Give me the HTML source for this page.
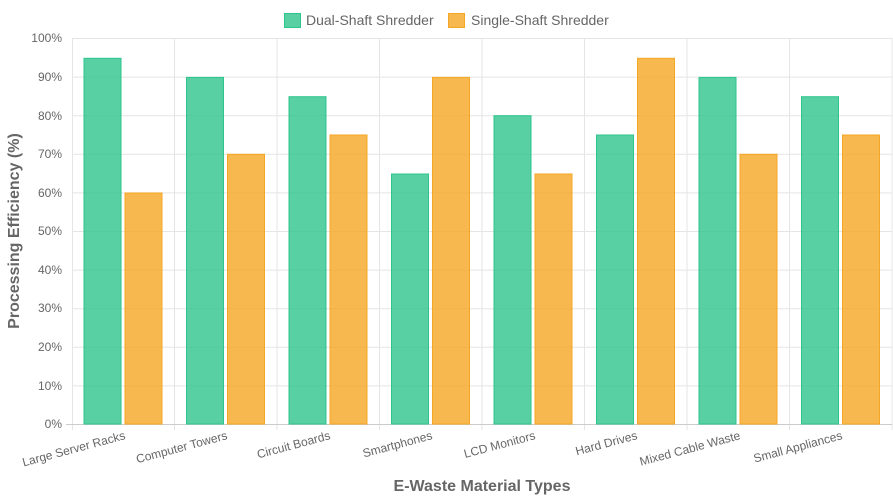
<!DOCTYPE html>
<html><head><meta charset="utf-8"><style>
body{margin:0;background:#fff;}
svg{display:block;font-family:"Liberation Sans",Arial,sans-serif;}
</style></head><body>
<svg width="893" height="500" viewBox="0 0 893 500" xmlns="http://www.w3.org/2000/svg">
<g stroke="#e5e5e5" stroke-width="1">
<line x1="72" y1="38.5" x2="892" y2="38.5"/><line x1="72" y1="77.1" x2="892" y2="77.1"/><line x1="72" y1="115.7" x2="892" y2="115.7"/><line x1="72" y1="154.3" x2="892" y2="154.3"/><line x1="72" y1="192.9" x2="892" y2="192.9"/><line x1="72" y1="231.5" x2="892" y2="231.5"/><line x1="72" y1="270.1" x2="892" y2="270.1"/><line x1="72" y1="308.7" x2="892" y2="308.7"/><line x1="72" y1="347.3" x2="892" y2="347.3"/><line x1="72" y1="385.9" x2="892" y2="385.9"/>
<line x1="72.5" y1="38" x2="72.5" y2="430"/><line x1="174.5" y1="38" x2="174.5" y2="430"/><line x1="277" y1="38" x2="277" y2="430"/><line x1="379.5" y1="38" x2="379.5" y2="430"/><line x1="482" y1="38" x2="482" y2="430"/><line x1="584.5" y1="38" x2="584.5" y2="430"/><line x1="687" y1="38" x2="687" y2="430"/><line x1="789.5" y1="38" x2="789.5" y2="430"/><line x1="892" y1="38" x2="892" y2="430"/>
</g>
<line x1="66" y1="424.5" x2="892" y2="424.5" stroke="#ccc"/>
<g font-size="12" fill="#666" text-anchor="end">
<text x="62" y="42">100%</text><text x="62" y="81">90%</text><text x="62" y="120">80%</text><text x="62" y="158">70%</text><text x="62" y="197">60%</text><text x="62" y="235">50%</text><text x="62" y="274">40%</text><text x="62" y="312">30%</text><text x="62" y="351">20%</text><text x="62" y="390">10%</text><text x="62" y="428">0%</text>
</g>
<g fill="rgba(46,196,140,0.8)" stroke="#2ec48c" stroke-width="1">
<rect x="84" y="58.3" width="37" height="365.7"/>
<rect x="186.5" y="77.4" width="37" height="346.6"/>
<rect x="289" y="96.7" width="37" height="327.3"/>
<rect x="391.5" y="174" width="37" height="250"/>
<rect x="494" y="115.7" width="37" height="308.3"/>
<rect x="596.5" y="135" width="37" height="289"/>
<rect x="699" y="77.4" width="37" height="346.6"/>
<rect x="801.5" y="96.7" width="37" height="327.3"/>
</g>
<g fill="rgba(245,166,35,0.8)" stroke="#f5a623" stroke-width="1">
<rect x="125" y="193" width="37" height="231"/>
<rect x="227.5" y="154.3" width="37" height="269.7"/>
<rect x="330" y="135" width="37" height="289"/>
<rect x="432.5" y="77.4" width="37" height="346.6"/>
<rect x="535" y="174" width="37" height="250"/>
<rect x="637.5" y="58.3" width="37" height="365.7"/>
<rect x="740" y="154.3" width="37" height="269.7"/>
<rect x="842.5" y="135" width="37" height="289"/>
</g>
<g font-size="12" fill="#666" text-anchor="end">
<text transform="translate(126,439) rotate(-15)">Large Server Racks</text>
<text transform="translate(228,439) rotate(-15)">Computer Towers</text>
<text transform="translate(331,439) rotate(-15)">Circuit Boards</text>
<text transform="translate(433,439) rotate(-15)">Smartphones</text>
<text transform="translate(536,439) rotate(-15)">LCD Monitors</text>
<text transform="translate(638,439) rotate(-15)">Hard Drives</text>
<text transform="translate(741,439) rotate(-15)">Mixed Cable Waste</text>
<text transform="translate(843,439) rotate(-15)">Small Appliances</text>
</g>
<text x="482" y="491" font-size="16" font-weight="bold" fill="#666" text-anchor="middle">E-Waste Material Types</text>
<text transform="translate(19,231) rotate(-90)" font-size="16" font-weight="bold" fill="#666" text-anchor="middle">Processing Efficiency (%)</text>
<rect x="284.5" y="13.5" width="16" height="14" fill="rgba(46,196,140,0.8)" stroke="#2ec48c"/>
<text x="306" y="25" font-size="14" fill="#666">Dual-Shaft Shredder</text>
<rect x="448.5" y="13.5" width="16" height="14" fill="rgba(245,166,35,0.8)" stroke="#f5a623"/>
<text x="471" y="25" font-size="14" fill="#666">Single-Shaft Shredder</text>
</svg>
</body></html>
